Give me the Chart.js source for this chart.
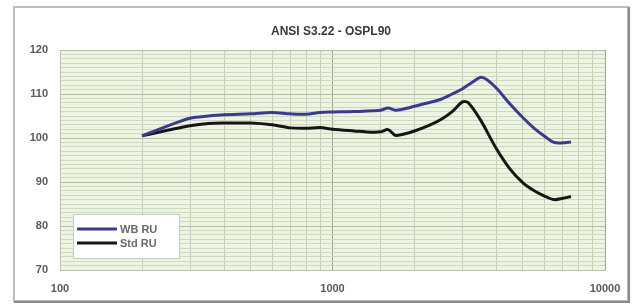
<!DOCTYPE html>
<html>
<head>
<meta charset="utf-8">
<script src="https://cdn.jsdelivr.net/npm/chart.js@4"></script>
<style>
  html, body { margin: 0; padding: 0; background: #fff; }
  #wrap { position: relative; width: 637px; height: 307px; }
</style>
</head>
<body>
<div id="wrap"><canvas id="c" width="637" height="307"></canvas></div>
<script>
const title = "ANSI S3.22 - OSPL90";
const seriesNames = ["WB RU", "Std RU"];
const seriesColors = ["#3b3b8e", "#161616"];

const wbFreq = [200, 250, 300, 350, 400, 500, 600, 700, 800, 900, 1000, 1200, 1400, 1500, 1600, 1700, 1800, 2000, 2250, 2500, 2750, 3000, 3250, 3500, 3700, 4000, 4500, 5000, 5500, 6000, 6500, 7000, 7500];
const wbVals = [100.5, 102.8, 104.5, 105.0, 105.3, 105.5, 105.8, 105.5, 105.4, 105.8, 105.9, 106.0, 106.2, 106.3, 106.8, 106.3, 106.5, 107.2, 108.0, 108.8, 110.0, 111.2, 112.6, 113.8, 113.2, 111.3, 107.6, 104.6, 102.2, 100.4, 99.0, 98.9, 99.1];

const stdFreq = [200, 250, 300, 350, 400, 500, 600, 700, 800, 900, 1000, 1200, 1400, 1500, 1600, 1700, 1800, 2000, 2250, 2500, 2750, 3000, 3150, 3500, 4000, 4500, 5000, 5500, 6000, 6500, 7000, 7500];
const stdVals = [100.5, 101.8, 102.8, 103.3, 103.4, 103.4, 103.0, 102.3, 102.2, 102.4, 102.0, 101.6, 101.3, 101.4, 101.9, 100.6, 100.8, 101.6, 102.8, 104.2, 106.0, 108.2, 108.0, 104.0, 97.5, 92.8, 89.8, 88.0, 86.8, 86.0, 86.3, 86.7];

const xMin = 100, xMax = 10000;
const yMin = 70, yMax = 120;
const xLabels = [100, 1000, 10000];

const toPts = (f, v) => f.map((x, i) => ({ x: x, y: v[i] }));
const FONT = '"Liberation Sans", Arial, sans-serif';

// outer frame, plot fill, title and a legend inside the plot
const framePlugin = {
    id: 'frame',
    beforeDraw(chart) {
        const c = chart.ctx, a = chart.chartArea;
        c.save();
        c.fillStyle = '#fff';
        c.fillRect(0, 0, chart.width, chart.height);
        c.strokeStyle = '#bdbdbd';
        c.lineWidth = 2;
        c.strokeRect(14, 7, 614, 294);
        c.strokeStyle = '#8a8a8a';
        c.beginPath(); c.moveTo(14, 302); c.lineTo(629, 302); c.lineTo(629, 7); c.stroke();
        c.fillStyle = '#eef4e2';
        c.fillRect(a.left, a.top, a.right - a.left, a.bottom - a.top);
        c.fillStyle = '#3a3a3a';
        c.font = 'bold 12px ' + FONT;
        c.textAlign = 'center';
        c.textBaseline = 'middle';
        c.fillText(title, 331, 32);
        c.restore();
    },
    afterDraw(chart) {
        const c = chart.ctx;
        c.save();
        c.fillStyle = '#fff';
        c.fillRect(73, 214, 106, 44);
        c.strokeStyle = '#c8c8c8';
        c.lineWidth = 1;
        c.strokeRect(73.5, 214.5, 106, 44);
        chart.data.datasets.forEach((ds, i) => {
            const y = 229 + i * 14;
            c.strokeStyle = ds.borderColor;
            c.lineWidth = 3;
            c.beginPath(); c.moveTo(77, y); c.lineTo(117, y); c.stroke();
            c.fillStyle = '#6a6a6a';
            c.font = 'bold 11px ' + FONT;
            c.textBaseline = 'middle';
            c.fillText(ds.label, 120, y + 1);
        });
        c.restore();
    }
};

new Chart(document.getElementById('c'), {
    type: 'scatter',
    data: {
        datasets: [
            { label: seriesNames[0], data: toPts(wbFreq, wbVals), borderColor: seriesColors[0], backgroundColor: seriesColors[0],
              showLine: true, borderWidth: 3, pointRadius: 0, tension: 0.3 },
            { label: seriesNames[1], data: toPts(stdFreq, stdVals), borderColor: seriesColors[1], backgroundColor: seriesColors[1],
              showLine: true, borderWidth: 3, pointRadius: 0, tension: 0.3 }
        ]
    },
    options: {
        responsive: false,
        animation: false,
        layout: { padding: { left: 0, right: 32, top: 50, bottom: 0 } },
        plugins: {
            legend: { display: false },
            tooltip: { enabled: false },
            title: { display: false }
        },
        scales: {
            x: {
                type: 'logarithmic', min: xMin, max: xMax,
                grid: {
                    color: ctx => xLabels.includes(ctx.tick && ctx.tick.value) ? '#9aa58c' : '#c5d0b6',
                    lineWidth: 1, drawTicks: false
                },
                border: { color: '#b9c4ac' },
                ticks: {
                    autoSkip: false, maxRotation: 0, padding: 12,
                    color: '#5a5a5a',
                    font: { family: FONT, size: 11, weight: 'bold' },
                    callback: v => xLabels.includes(v) ? String(v) : ''
                },
                afterFit: s => { s.height = 37; }
            },
            y: {
                min: yMin, max: yMax,
                grid: {
                    color: ctx => (ctx.tick && ctx.tick.value % 10 === 0) ? '#b3bfa3' : '#cfd9c1',
                    lineWidth: 1, drawTicks: false
                },
                border: { color: '#b9c4ac' },
                ticks: {
                    stepSize: 1, autoSkip: false, padding: 12,
                    color: '#5a5a5a',
                    font: { family: FONT, size: 11, weight: 'bold' },
                    callback: v => v % 10 === 0 ? String(v) : ''
                },
                afterFit: s => { s.width = 60; }
            }
        }
    }
    ,plugins: [framePlugin]
});
</script>
</body>
</html>
